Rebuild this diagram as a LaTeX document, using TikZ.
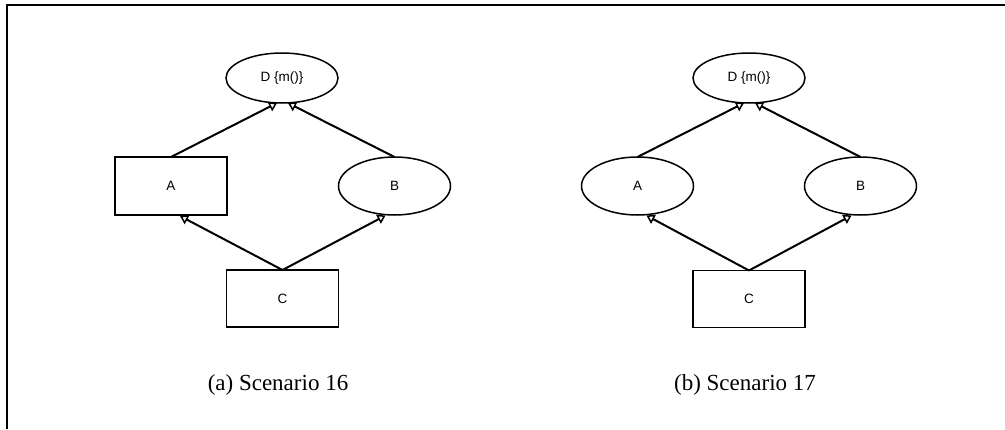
\documentclass[tikz,border=0pt]{standalone}
\usepackage{fontspec}
\setmainfont{Liberation Serif}
\newfontfamily\lblfont{Liberation Sans}
\usetikzlibrary{arrows.meta,calc,shapes.geometric}
\begin{document}
\begin{tikzpicture}[x=1pt,y=-1pt,
  every node/.style={inner sep=0pt,outer sep=0pt},
  cls/.style={draw,line width=1.5pt,font=\lblfont\fontsize{13.5}{15}\selectfont},
  boxnode/.style={cls,rectangle,minimum width=112pt,minimum height=57pt},
  ellnode/.style={cls,ellipse,minimum width=112pt,minimum height=58pt},
  topnode/.style={cls,ellipse,minimum width=112pt,minimum height=50pt},
  inh/.style={line width=2pt,-{Triangle[open,length=8pt,width=10pt,line width=1.5pt]}},
  captext/.style={font=\fontsize{23}{26}\selectfont},
  frameline/.style={line width=2pt}]
\useasboundingbox (0,0) rectangle (1005,429);
% frame
\coordinate (fL) at (7,429);
\coordinate (fC) at (7,5);
\coordinate (fR) at (1005,5);
\draw[frameline] (fL) -- (fC) -- (fR);

% Scenario 16
\node[topnode] (D16) at (282,78) {D \{m()\}};
\node[boxnode,minimum height=58pt] (A16) at (171,186) {A};
\node[ellnode] (B16) at (394.5,186) {B};
\node[boxnode] (C16) at (282.5,298.5) {C};
\draw[inh] (A16.north) -- ($(D16.south)+(-5,0)$);
\draw[inh] (B16.north) -- ($(D16.south)+(6,0)$);
\draw[inh] (C16.north) -- ($(A16.south)+(9,1)$);
\draw[inh] (C16.north) -- ($(B16.south)+(-9,0.5)$);
\node[captext] (cap16) at (278,385) {(a) Scenario 16};

% Scenario 17
\node[topnode] (D17) at (749,78) {D \{m()\}};
\node[ellnode] (A17) at (637.5,186) {A};
\node[ellnode] (B17) at (860.5,186) {B};
\node[boxnode] (C17) at (749,299) {C};
\draw[inh] (A17.north) -- ($(D17.south)+(-5,0)$);
\draw[inh] (B17.north) -- ($(D17.south)+(6,0)$);
\draw[inh] (C17.north) -- ($(A17.south)+(9,0.5)$);
\draw[inh] (C17.north) -- ($(B17.south)+(-9,0.5)$);
\node[captext] (cap17) at (745,385) {(b) Scenario 17};
\end{tikzpicture}
\end{document}
